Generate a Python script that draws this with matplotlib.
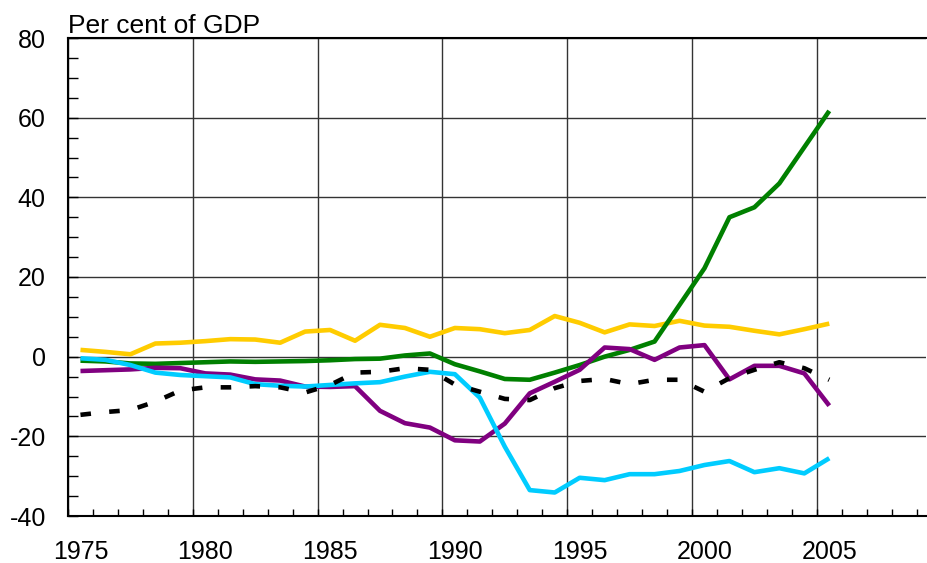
import matplotlib
matplotlib.use("Agg")
import matplotlib.pyplot as plt
from matplotlib.ticker import MultipleLocator
import numpy as np

years = list(range(1975, 2006))

yellow = [1.7, 1.2, 0.6, 3.3, 3.5, 3.9, 4.4, 4.3, 3.5, 6.3, 6.7, 4.0, 8.0, 7.2, 5.0,
          7.2, 6.9, 5.9, 6.7, 10.2, 8.5, 6.1, 8.1, 7.7, 9.0, 7.8, 7.5, 6.5, 5.6, 6.9, 8.3]
green = [-1.0, -1.2, -1.7, -1.8, -1.6, -1.4, -1.2, -1.3, -1.2, -1.1, -0.9, -0.6, -0.5, 0.3, 0.8,
         -1.9, -3.7, -5.6, -5.8, -4.0, -2.1, 0.0, 1.7, 3.8, 13.0, 22.2, 35.0, 37.5, 43.5, 52.6, 61.7]
purple = [-3.6, -3.4, -3.2, -2.8, -2.9, -4.2, -4.5, -5.7, -6.0, -7.5, -7.6, -7.4, -13.6, -16.7, -17.8,
          -21.0, -21.3, -16.8, -9.2, -6.3, -3.3, 2.3, 1.9, -0.8, 2.3, 2.9, -5.7, -2.3, -2.3, -4.2, -12.3]
cyan = [-0.4, -0.8, -2.1, -4.0, -4.6, -4.9, -5.2, -6.9, -7.3, -7.5, -7.1, -6.7, -6.4, -5.0, -3.8,
        -4.4, -10.3, -22.6, -33.5, -34.1, -30.4, -31.0, -29.5, -29.5, -28.7, -27.2, -26.2, -29.0, -28.0, -29.3, -25.5]
black = [-14.6, -13.9, -13.4, -11.3, -8.5, -7.7, -7.7, -7.4, -7.7, -9.0, -7.1, -4.0, -3.8, -2.9, -3.3,
         -7.0, -8.8, -10.6, -10.9, -7.9, -6.1, -5.6, -6.9, -5.8, -5.8, -8.8, -5.4, -3.3, -1.4, -2.9, -5.8]

tick_years = [1975, 1980, 1985, 1990, 1995, 2000, 2005]
ylabel_text = "Per cent of GDP"

plt.rcParams['font.family'] = ['Liberation Sans', 'DejaVu Sans']

fig = plt.figure(figsize=(9.27, 5.63), dpi=100)
W, H = 927, 563
ax = fig.add_axes([68 / W, 1 - 516 / H, (926 - 68) / W, (516 - 38) / H])

x = np.array(years) + 0.5
lw = 3.3
ax.plot(x, yellow, color='#FFCC00', lw=lw, solid_capstyle='butt', zorder=3)
ax.plot(x, green, color='#008000', lw=lw, solid_capstyle='butt', zorder=3)
ax.plot(x, purple, color='#800080', lw=lw, solid_capstyle='butt', zorder=3)
ax.plot(x, cyan, color='#00CCFF', lw=lw, solid_capstyle='butt', zorder=3)
ax.plot(x, black, color='black', lw=lw, dashes=(2.3, 4.0), dash_capstyle='butt', zorder=4)

ax.set_xlim(1975, 1975 + (926 - 68) / 24.96)
ax.set_ylim(-40, 80)

ax.set_xticks(tick_years)
ax.set_xticklabels([])
ax.xaxis.set_minor_locator(MultipleLocator(1))
ax.set_yticks([-40, -20, 0, 20, 40, 60, 80])
ax.yaxis.set_minor_locator(MultipleLocator(5))
ax.tick_params(axis='both', which='both', direction='in', color='black', width=1)
ax.tick_params(axis='x', which='major', length=5)
ax.tick_params(axis='x', which='minor', length=5)
ax.tick_params(axis='y', which='both', length=7, labelsize=18, pad=16)
ax.set_yticklabels([str(v) for v in [-40, -20, 0, 20, 40, 60, 80]])

for t in tick_years:
    ax.text(t + 0.5, -0.05, str(t), transform=ax.get_xaxis_transform(),
            ha='center', va='top', fontsize=18)

ax.grid(True, which='major', color='#333333', lw=1.0)
ax.set_axisbelow(True)
for s in ['left', 'bottom', 'top']:
    ax.spines[s].set_linewidth(1.5)
    ax.spines[s].set_color('black')
ax.spines['right'].set_visible(False)

fig.text(68 / W, 1 - 33 / H, ylabel_text, ha='left', va='baseline', fontsize=19)

fig.savefig('out.png', dpi=100)
